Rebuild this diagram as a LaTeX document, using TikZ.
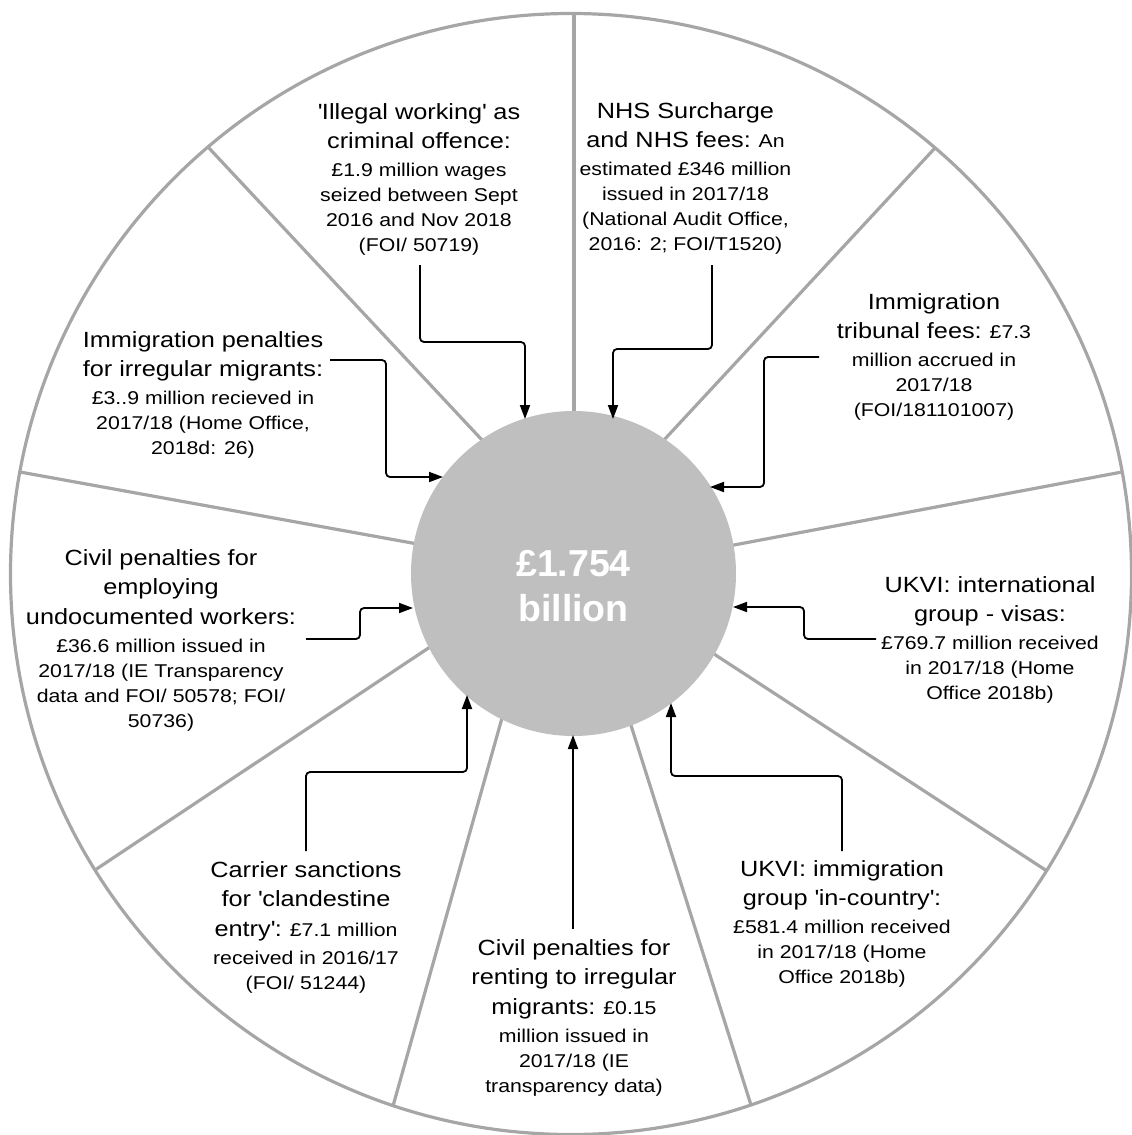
\documentclass[tikz,border=0pt]{standalone}
\usepackage{fontspec}
\setmainfont{Liberation Sans}[FakeStretch=1.15]
\newfontfamily\hubfamily{Liberation Sans}
\usetikzlibrary{arrows.meta}
\definecolor{rimgray}{HTML}{A6A6A6}
\definecolor{hubgray}{HTML}{BFBFBF}
\newcommand{\headsize}{\fontsize{22}{29}\selectfont}
\newcommand{\notesize}{\fontsize{18.5}{25}\selectfont}
\newcommand{\sq}{\textquotesingle}

\begin{document}
\begin{tikzpicture}[x=1pt, y=-1pt,
    spoke/.style={draw=rimgray, line width=3.2pt},
    feed/.style={line width=1.8pt, rounded corners=4pt, -{Triangle[length=14pt,width=10pt]}},
    blurb/.style={anchor=north, align=center, inner sep=0pt, font=\notesize}]
  \useasboundingbox (0,0) rectangle (1132,1135);
  \draw[spoke] (571,574) circle[radius=560.5];
  \draw[spoke, shorten >=-10pt] (574,13) -- (574,412);
  \draw[spoke, shorten >=-10pt] (208,147) -- (482,440);
  \draw[spoke, shorten >=-10pt] (20,472) -- (412,543);
  \draw[spoke, shorten >=-10pt] (95,870) -- (430,647);
  \draw[spoke, shorten >=-10pt] (393,1106) -- (502,718);
  \draw[spoke, shorten >=-10pt] (751,1105) -- (629,719);
  \draw[spoke, shorten >=-10pt] (1047,871) -- (714,654);
  \draw[spoke, shorten >=-10pt] (1122,472) -- (734,545);
  \draw[spoke, shorten >=-10pt] (935,148) -- (664,440);
  \node[circle, fill=hubgray, inner sep=0pt, minimum size=325pt] (hub) at (573.5,573.5) {};
  \node[anchor=north, align=center, inner sep=0pt, text=white,
    font=\hubfamily\bfseries\fontsize{37.5}{45}\selectfont] (total) at (573.5,550) {£1.754\\billion};

  \node[blurb] (illegal) at (419,103) {{\headsize \sq Illegal working\sq{} as}\\[4.5pt]{\headsize criminal offence:}\\[3pt]
    £1.9 million wages\\seized between Sept\\2016 and Nov 2018\\(FOI/ 50719)};
  \node[blurb] (nhs) at (685.5,102) {{\headsize NHS Surcharge}\\[4.5pt]{\headsize and NHS fees:} An\\[3pt]
    estimated £346 million\\issued in 2017/18\\(National Audit Office,\\2016: 2; FOI/T1520)};
  \node[blurb] (penalties) at (203,331) {{\headsize Immigration penalties}\\[4.5pt]{\headsize for irregular migrants:}\\[3pt]
    £3..9 million recieved in\\2017/18 (Home Office,\\2018d: 26)};
  \node[blurb] (tribunal) at (934,293) {{\headsize Immigration}\\[4.5pt]{\headsize tribunal fees:} £7.3\\[3pt]
    million accrued in\\2017/18\\(FOI/181101007)};
  \node[blurb] (employing) at (161,549) {{\headsize Civil penalties for}\\[4.5pt]{\headsize employing}\\[4.5pt]{\headsize undocumented workers:}\\[3pt]
    £36.6 million issued in\\2017/18 (IE Transparency\\data and FOI/ 50578; FOI/\\50736)};
  \node[blurb] (visas) at (990,576) {{\headsize UKVI: international}\\[4.5pt]{\headsize group - visas:}\\[3pt]
    £769.7 million received\\in 2017/18 (Home\\Office 2018b)};
  \node[blurb] (carrier) at (306,861) {{\headsize Carrier sanctions}\\[4.5pt]{\headsize for \sq clandestine}\\[4.5pt]{\headsize entry\sq:} £7.1 million\\[3pt]
    received in 2016/17\\(FOI/ 51244)};
  \node[blurb] (renting) at (574,939) {{\headsize Civil penalties for}\\[4.5pt]{\headsize renting to irregular}\\[4.5pt]{\headsize migrants:} £0.15\\[3pt]
    million issued in\\2017/18 (IE\\transparency data)};
  \node[blurb] (incountry) at (842,860) {{\headsize UKVI: immigration}\\[4.5pt]{\headsize group \sq in-country\sq:}\\[3pt]
    £581.4 million received\\in 2017/18 (Home\\Office 2018b)};

  \coordinate (illegal-out) at (420,265);   \coordinate (illegal-in) at (525,419);
  \coordinate (nhs-out) at (712,265);       \coordinate (nhs-in) at (613,419);
  \coordinate (penalties-out) at (330,360); \coordinate (penalties-in) at (443,477);
  \coordinate (tribunal-out) at (819,357);  \coordinate (tribunal-in) at (710,487);
  \coordinate (employing-out) at (306,639); \coordinate (employing-in) at (413,608);
  \coordinate (visas-out) at (876,639);     \coordinate (visas-in) at (733,607);
  \coordinate (carrier-out) at (306,851);   \coordinate (carrier-in) at (467,695);
  \coordinate (renting-out) at (573,929);   \coordinate (renting-in) at (573,735);
  \coordinate (incountry-out) at (842,851); \coordinate (incountry-in) at (671,703);
  \draw[feed] (illegal-out) -- ++(0,77) -| (illegal-in);
  \draw[feed] (nhs-out) -- ++(0,84) -| (nhs-in);
  \draw[feed] (penalties-out) -- ++(56,0) |- (penalties-in);
  \draw[feed] (tribunal-out) -- ++(-55,0) |- (tribunal-in);
  \draw[feed] (employing-out) -- ++(54,0) |- (employing-in);
  \draw[feed] (visas-out) -- ++(-72,0) |- (visas-in);
  \draw[feed] (carrier-out) -- ++(0,-79) -| (carrier-in);
  \draw[feed] (renting-out) -- (renting-in);
  \draw[feed] (incountry-out) -- ++(0,-75) -| (incountry-in);
\end{tikzpicture}
\end{document}
